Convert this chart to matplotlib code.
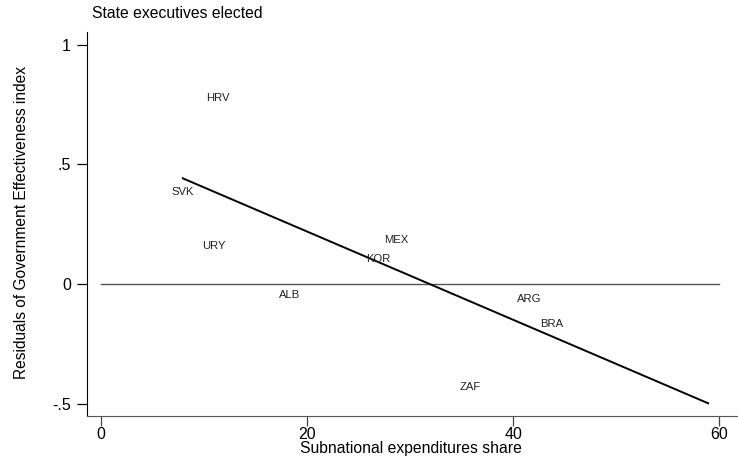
import matplotlib
matplotlib.use("Agg")
import matplotlib.pyplot as plt

plt.rcParams['font.family'] = ['Liberation Sans', 'DejaVu Sans']

# Country residuals vs. subnational expenditure share
countries = ["HRV", "SVK", "URY", "ALB", "MEX", "KOR", "ARG", "BRA", "ZAF"]
exp_share = [11.3, 7.9, 10.9, 18.25, 28.6, 26.9, 41.5, 43.75, 35.8]
residuals = [0.780, 0.386, 0.159, -0.046, 0.184, 0.103, -0.064, -0.169, -0.430]

# Fitted regression line endpoints
fit_x = [7.93, 58.9]
fit_y = [0.442, -0.499]

# Zero reference line
zero_x = [0, 60]
zero_y = [0, 0]

xticks = [0, 20, 40, 60]
xticklabels = ["0", "20", "40", "60"]
yticks = [-0.5, 0, 0.5, 1]
yticklabels = ["-.5", "0", ".5", "1"]

W, H = 738, 462
fig = plt.figure(figsize=(W / 100, H / 100), dpi=100)
ax = fig.add_axes([87 / W, 1 - 415.7 / H, (W - 87) / W, (415.7 - 32.3) / H])

ax.plot(zero_x, zero_y, color="#555555", lw=1.0)
ax.plot(fit_x, fit_y, color="black", lw=1.4)

for name, x, y in zip(countries, exp_share, residuals):
    ax.text(x, y, name, ha="center", va="center", fontsize=8.1, color="#222222")

ax.set_xlim(-1.37, 61.8)
ax.set_ylim(-0.551, 1.053)

ax.set_xticks(xticks)
ax.set_xticklabels(xticklabels, fontsize=11.5)
ax.set_yticks(yticks)
ax.set_yticklabels(yticklabels, fontsize=11.5)
ax.tick_params(axis="both", direction="out", length=7, width=0.9)
ax.tick_params(axis="y", pad=4.5)
ax.tick_params(axis="x", pad=1, colors="#444444", labelcolor="black")

for side in ["top", "right"]:
    ax.spines[side].set_visible(False)
ax.spines["left"].set_color("black")
ax.spines["bottom"].set_color("#555555")

ax.set_xlabel("Subnational expenditures share", fontsize=11.3)
ax.xaxis.label.set_va("center")
ax.xaxis.set_label_coords((411 - 87) / (W - 87), (415.7 - 448.5) / 383.4)

ax.set_ylabel("Residuals of Government Effectiveness index", fontsize=11.2)
ax.yaxis.label.set_va("center")
ax.yaxis.set_label_coords((22 - 87) / (W - 87), (415.7 - 222.5) / 383.4)

fig.text(92 / W, 1 - 14 / H, "State executives elected", ha="left", va="center", fontsize=11.3)

fig.savefig("out.png", dpi=100)
